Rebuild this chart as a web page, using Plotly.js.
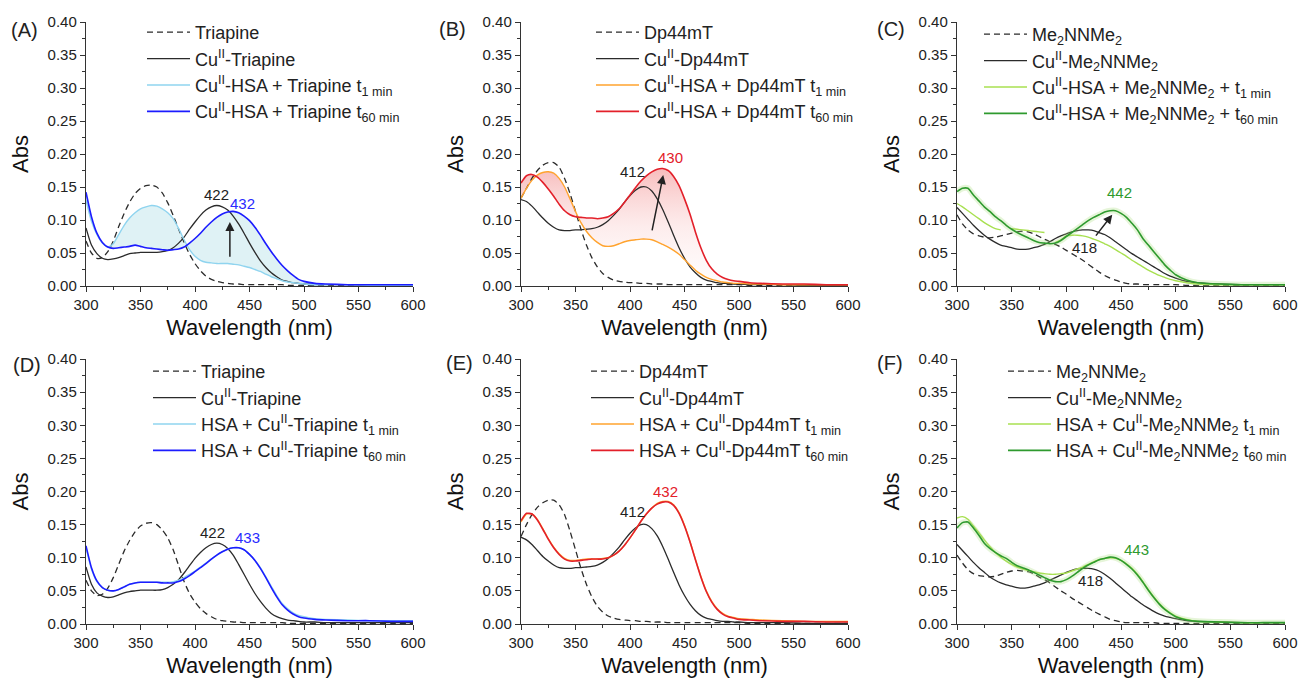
<!DOCTYPE html>
<html>
<head>
<meta charset="utf-8">
<script src="https://cdn.plot.ly/plotly-3.0.1.min.js"></script>
<style>html,body{margin:0;padding:0;background:#fff;}#chart{width:1298px;height:680px;}</style>
</head>
<body>
<div id="chart"></div>
<script>
// Wavelength grid (nm)
const WL = [300,305,310,315,320,325,330,335,340,345,
            350,355,360,365,370,375,380,385,390,395,
            400,405,410,415,420,425,430,435,440,445,
            450,455,460,465,470,475,480,485,490,495,
            500,
            510,520,540,560,580,600];

// Panel A
const triapineA = [0.068,0.050,0.042,0.043,0.052,0.068,0.090,0.110,0.127,0.140,
 0.148,0.152,0.153,0.150,0.141,0.126,0.107,0.086,0.066,0.048,
 0.034,0.023,0.015,0.010,0.007,0.005,0.004,0.003,0.003,0.002,
 0.002,0.002,0.002,0.002,0.002,0.002,0.002,0.001,0.001,0.001,
 0.001, 0.001,0.001,0.001,0.001,0.001,0.001];
const cuTriapineA = [0.088,0.062,0.049,0.042,0.040,0.041,0.043,0.046,0.049,0.050,
 0.051,0.051,0.051,0.051,0.052,0.054,0.058,0.065,0.074,0.086,
 0.097,0.107,0.115,0.120,0.122,0.120,0.115,0.106,0.094,0.080,
 0.065,0.051,0.038,0.028,0.020,0.014,0.009,0.007,0.005,0.004,
 0.003, 0.002,0.002,0.002,0.001,0.001,0.001];
const t1A = [0.130,0.098,0.078,0.065,0.059,0.064,0.078,0.092,0.103,0.111,
 0.117,0.120,0.122,0.121,0.117,0.111,0.102,0.087,0.070,0.055,
 0.045,0.039,0.036,0.035,0.034,0.034,0.034,0.033,0.032,0.030,
 0.028,0.025,0.022,0.018,0.014,0.011,0.008,0.006,0.005,0.004,
 0.003, 0.002,0.002,0.002,0.001,0.001,0.001];
const t60A = [0.142,0.105,0.080,0.066,0.059,0.057,0.058,0.059,0.060,0.062,
 0.060,0.058,0.057,0.056,0.055,0.054,0.055,0.056,0.059,0.065,
 0.072,0.080,0.089,0.097,0.104,0.109,0.112,0.113,0.111,0.106,
 0.099,0.089,0.077,0.064,0.052,0.041,0.031,0.023,0.016,0.010,
 0.007, 0.004,0.003,0.002,0.002,0.002,0.002];

// Panel B
const dp44mtB = [0.133,0.148,0.163,0.175,0.183,0.187,0.187,0.180,0.163,0.140,
 0.113,0.086,0.062,0.043,0.029,0.019,0.013,0.009,0.007,0.006,
 0.005,0.005,0.004,0.004,0.003,0.003,0.003,0.002,0.002,0.002,
 0.002,0.002,0.002,0.002,0.002,0.002,0.002,0.002,0.002,0.002,
 0.002, 0.001,0.001,0.001,0.001,0.001,0.001];
const cuDp44mtB = [0.131,0.128,0.121,0.112,0.103,0.095,0.089,0.085,0.084,0.084,
 0.085,0.085,0.086,0.087,0.089,0.093,0.099,0.107,0.116,0.127,
 0.137,0.145,0.150,0.150,0.144,0.132,0.116,0.097,0.077,0.058,
 0.042,0.029,0.020,0.013,0.009,0.007,0.005,0.004,0.004,0.003,
 0.003, 0.002,0.002,0.002,0.001,0.001,0.001];
const t1B = [0.133,0.148,0.160,0.168,0.172,0.173,0.171,0.163,0.150,0.132,
 0.113,0.096,0.083,0.073,0.066,0.061,0.060,0.061,0.064,0.067,
 0.069,0.070,0.071,0.071,0.070,0.067,0.063,0.059,0.054,0.048,
 0.040,0.032,0.024,0.018,0.013,0.010,0.008,0.006,0.005,0.004,
 0.004, 0.003,0.003,0.002,0.002,0.002,0.002];
const t60B = [0.156,0.167,0.169,0.165,0.157,0.147,0.136,0.124,0.114,0.108,
 0.105,0.104,0.103,0.103,0.102,0.103,0.105,0.110,0.117,0.127,
 0.138,0.149,0.159,0.167,0.173,0.177,0.178,0.175,0.166,0.152,
 0.132,0.109,0.082,0.058,0.039,0.026,0.018,0.013,0.010,0.008,
 0.007, 0.005,0.004,0.003,0.003,0.002,0.002];

// Panel C
const meC = [0.108,0.094,0.085,0.079,0.076,0.074,0.073,0.074,0.076,0.078,
 0.080,0.082,0.083,0.082,0.079,0.075,0.071,0.067,0.063,0.059,
 0.054,0.049,0.044,0.039,0.033,0.027,0.021,0.016,0.012,0.009,
 0.006,0.004,0.003,0.003,0.002,0.002,0.002,0.002,0.002,0.002,
 0.002, 0.001,0.001,0.001,0.001,0.001,0.001];
const cuMeC = [0.119,0.110,0.101,0.092,0.084,0.077,0.071,0.066,0.062,0.060,
 0.058,0.056,0.0555,0.056,0.058,0.060,0.063,0.067,0.072,0.076,
 0.079,0.082,0.084,0.085,0.085,0.084,0.081,0.078,0.073,0.067,
 0.061,0.055,0.049,0.044,0.039,0.034,0.029,0.024,0.019,0.015,
 0.012, 0.007,0.005,0.003,0.002,0.002,0.002];
const t1C = [0.125,0.120,0.114,0.108,0.102,0.096,0.091,0.087,0.085,null,
 0.087,0.086,0.085,0.084,0.083,0.082,0.081,null,0.066,0.070,
 0.076,0.077,0.077,0.076,0.074,0.071,0.068,0.064,0.060,0.055,
 0.050,0.045,0.039,0.034,0.029,0.024,0.020,0.016,0.013,0.010,
 0.008, 0.005,0.003,0.002,0.002,0.002,0.002];
const t60C = [0.143,0.148,0.148,0.138,0.129,0.120,0.113,0.105,0.099,0.092,
 0.086,0.081,0.077,0.073,0.069,0.066,0.065,0.064,0.065,0.069,
 0.075,0.081,0.087,0.093,0.099,0.104,0.108,0.112,0.114,0.114,
 0.110,0.104,0.095,0.085,0.072,0.062,0.052,0.042,0.032,0.024,
 0.017, 0.009,0.005,0.003,0.002,0.002,0.002];

// Panel D
const triapineD = [0.066,0.050,0.043,0.045,0.054,0.070,0.090,0.110,0.126,0.139,
 0.148,0.152,0.153,0.150,0.142,0.130,0.112,0.088,0.064,0.046,
 0.033,0.023,0.016,0.011,0.007,0.005,0.004,0.003,0.003,0.002,
 0.002,0.002,0.002,0.002,0.002,0.002,0.002,0.001,0.001,0.001,
 0.001, 0.001,0.001,0.001,0.001,0.001,0.001];
const cuTriapineD = [0.086,0.060,0.047,0.042,0.040,0.041,0.044,0.047,0.049,0.050,
 0.051,0.051,0.051,0.051,0.052,0.055,0.060,0.067,0.077,0.088,
 0.099,0.108,0.115,0.120,0.122,0.120,0.114,0.104,0.090,0.075,
 0.060,0.046,0.034,0.024,0.016,0.011,0.008,0.006,0.005,0.004,
 0.003, 0.003,0.002,0.002,0.002,0.002,0.002];
const t1D = [0.115,0.083,0.064,0.055,0.051,0.050,0.052,0.056,0.060,0.062,
 0.063,0.063,0.063,0.063,0.063,0.063,0.064,0.066,0.070,0.075,
 0.080,0.086,0.092,0.098,0.104,0.109,0.113,0.115,0.115,0.112,
 0.105,0.096,0.085,0.071,0.057,0.043,0.031,0.023,0.017,0.013,
 0.011, 0.008,0.007,0.006,0.005,0.005,0.005];
const t60D = [0.118,0.085,0.065,0.055,0.051,0.050,0.052,0.056,0.060,0.062,
 0.063,0.063,0.063,0.063,0.062,0.062,0.062,0.064,0.068,0.073,
 0.079,0.085,0.091,0.098,0.104,0.109,0.113,0.115,0.115,0.112,
 0.105,0.096,0.084,0.070,0.055,0.041,0.029,0.021,0.015,0.011,
 0.009, 0.007,0.006,0.005,0.005,0.004,0.004];

// Panel E
const dp44mtE = [0.132,0.150,0.165,0.176,0.183,0.187,0.187,0.180,0.165,0.140,
 0.112,0.084,0.060,0.041,0.027,0.018,0.012,0.009,0.007,0.006,
 0.005,0.005,0.004,0.004,0.003,0.003,0.003,0.002,0.002,0.002,
 0.002,0.002,0.002,0.002,0.002,0.002,0.002,0.002,0.002,0.002,
 0.002, 0.001,0.001,0.001,0.001,0.001,0.001];
const cuDp44mtE = [0.131,0.127,0.120,0.111,0.102,0.095,0.089,0.085,0.084,0.084,
 0.085,0.085,0.086,0.087,0.089,0.093,0.099,0.107,0.116,0.127,
 0.137,0.145,0.150,0.150,0.144,0.133,0.117,0.098,0.078,0.059,
 0.043,0.030,0.020,0.013,0.009,0.007,0.005,0.004,0.004,0.003,
 0.003, 0.002,0.002,0.002,0.001,0.001,0.001];
const t1E = [0.154,0.166,0.166,0.158,0.144,0.129,0.116,0.106,0.099,0.096,
 0.096,0.097,0.098,0.098,0.098,0.099,0.100,0.104,0.110,0.119,
 0.130,0.142,0.155,0.166,0.175,0.182,0.185,0.185,0.180,0.168,
 0.149,0.125,0.098,0.072,0.050,0.034,0.023,0.016,0.012,0.010,
 0.008, 0.007,0.006,0.005,0.004,0.004,0.004];
const t60E = [0.156,0.167,0.166,0.157,0.143,0.128,0.115,0.105,0.098,0.095,
 0.095,0.096,0.097,0.098,0.098,0.098,0.100,0.104,0.110,0.119,
 0.130,0.142,0.155,0.166,0.175,0.181,0.184,0.184,0.179,0.167,
 0.148,0.124,0.097,0.071,0.049,0.033,0.022,0.015,0.011,0.009,
 0.007, 0.006,0.005,0.004,0.004,0.003,0.003];

// Panel F
const meF = [0.104,0.092,0.082,0.076,0.073,0.072,0.071,0.072,0.075,0.078,
 0.080,0.081,0.080,0.079,0.076,0.071,0.067,0.062,0.056,0.050,
 0.045,0.039,0.034,0.029,0.024,0.019,0.015,0.011,0.007,0.005,
 0.003,0.002,0.002,0.002,0.002,0.002,0.002,0.001,0.001,0.001,
 0.001, 0.001,0.001,0.001,0.001,0.001,0.001];
const cuMeF = [0.120,0.111,0.102,0.093,0.085,0.078,0.071,0.066,0.062,0.059,
 0.057,0.055,0.054,0.055,0.057,0.059,0.062,0.066,0.070,0.074,
 0.078,0.081,0.083,0.084,0.084,0.083,0.080,0.075,0.069,0.062,
 0.055,0.048,0.041,0.035,0.029,0.024,0.019,0.015,0.012,0.010,
 0.008, 0.005,0.004,0.003,0.002,0.002,0.002];
const t1F = [0.160,0.162,0.158,0.148,0.138,0.127,0.117,0.108,0.101,0.095,
 0.090,0.086,0.083,0.081,0.079,0.077,0.076,0.075,0.075,0.076,
 0.077,0.080,0.083,0.086,0.090,0.094,0.097,0.099,0.100,0.099,
 0.096,0.091,0.084,0.075,0.064,0.052,0.041,0.031,0.023,0.017,
 0.012, 0.007,0.004,0.003,0.002,0.002,0.002];
const t60F = [0.145,0.153,0.154,0.145,0.134,0.122,0.114,0.108,0.103,0.099,
 0.093,0.088,0.085,0.082,0.078,0.074,0.070,0.066,0.064,0.064,
 0.067,0.072,0.078,0.084,0.089,0.093,0.097,0.099,0.101,0.100,
 0.096,0.090,0.083,0.074,0.063,0.051,0.040,0.030,0.022,0.016,
 0.011, 0.006,0.004,0.003,0.002,0.002,0.002];

// Legend labels
const namesA = ["Triapine","Cu<sup>II</sup>-Triapine","Cu<sup>II</sup>-HSA + Triapine t<sub>1 min</sub>","Cu<sup>II</sup>-HSA + Triapine t<sub>60 min</sub>"];
const namesB = ["Dp44mT","Cu<sup>II</sup>-Dp44mT","Cu<sup>II</sup>-HSA + Dp44mT t<sub>1 min</sub>","Cu<sup>II</sup>-HSA + Dp44mT t<sub>60 min</sub>"];
const namesC = ["Me<sub>2</sub>NNMe<sub>2</sub>","Cu<sup>II</sup>-Me<sub>2</sub>NNMe<sub>2</sub>","Cu<sup>II</sup>-HSA + Me<sub>2</sub>NNMe<sub>2</sub> + t<sub>1 min</sub>","Cu<sup>II</sup>-HSA + Me<sub>2</sub>NNMe<sub>2</sub> + t<sub>60 min</sub>"];
const namesD = ["Triapine","Cu<sup>II</sup>-Triapine","HSA + Cu<sup>II</sup>-Triapine t<sub>1 min</sub>","HSA + Cu<sup>II</sup>-Triapine t<sub>60 min</sub>"];
const namesE = ["Dp44mT","Cu<sup>II</sup>-Dp44mT","HSA + Cu<sup>II</sup>-Dp44mT t<sub>1 min</sub>","HSA + Cu<sup>II</sup>-Dp44mT t<sub>60 min</sub>"];
const namesF = ["Me<sub>2</sub>NNMe<sub>2</sub>","Cu<sup>II</sup>-Me<sub>2</sub>NNMe<sub>2</sub>","HSA + Cu<sup>II</sup>-Me<sub>2</sub>NNMe<sub>2</sub> t<sub>1 min</sub>","HSA + Cu<sup>II</sup>-Me<sub>2</sub>NNMe<sub>2</sub> t<sub>60 min</sub>"];

const panelLabels = ["(A)","(B)","(C)","(D)","(E)","(F)"];
const xTickVals = [300,350,400,450,500,550,600];
const yTickVals = [0,0.05,0.10,0.15,0.20,0.25,0.30,0.35,0.40];

const BLACK = '#2b2b2b';
const FONT = 'Liberation Sans, Arial, sans-serif';

const panels = [
  {ax:'',  leg:'legend',  names:namesA, d:[triapineA,cuTriapineA,t1A,t60A], c1:'#8fd4ef', c2:'#1c1cff',
   fill:{color:'rgba(110,195,210,0.22)'}, glow:null},
  {ax:'2', leg:'legend2', names:namesB, d:[dp44mtB,cuDp44mtB,t1B,t60B], c1:'#ffa32e', c2:'#e3202a',
   fill:{color:'rgba(240,120,120,0.15)', gradient:{type:'vertical', colorscale:[[0,'rgba(250,200,200,0.05)'],[0.5,'rgba(245,150,150,0.18)'],[1,'rgba(235,80,80,0.38)']]}}, glow:null},
  {ax:'3', leg:'legend3', names:namesC, d:[meC,cuMeC,t1C,t60C], c1:'#a8e050', c2:'#2e9a2e', fill:null, glow:'rgba(165,220,120,0.28)'},
  {ax:'4', leg:'legend4', names:namesD, d:[triapineD,cuTriapineD,t1D,t60D], c1:'#8fd4ef', c2:'#1c1cff', fill:null, glow:null},
  {ax:'5', leg:'legend5', names:namesE, d:[dp44mtE,cuDp44mtE,t1E,t60E], c1:'#ffa32e', c2:'#e3202a', fill:null, glow:null},
  {ax:'6', leg:'legend6', names:namesF, d:[meF,cuMeF,t1F,t60F], c1:'#a8e050', c2:'#2e9a2e', fill:null, glow:'rgba(165,220,120,0.28)'}
];

const SPL = {shape: 'spline', smoothing: 0.6};
const traces = [];
panels.forEach((p, i) => {
  const xa = 'x' + p.ax, ya = 'y' + p.ax;
  const base = {x: WL, xaxis: xa, yaxis: ya, mode: 'lines', legend: p.leg, hoverinfo: 'skip'};
  if (p.fill) {
    // shaded band between the t1 and t60 spectra (closed polygon built from the two series)
    const band = {
      x: WL.concat(WL.slice().reverse()),
      y: p.d[3].concat(p.d[2].slice().reverse()),
      xaxis: xa, yaxis: ya, mode: 'lines', showlegend: false, hoverinfo: 'skip',
      fill: 'toself', fillcolor: p.fill.color,
      line: Object.assign({width: 0, color: 'rgba(0,0,0,0)'}, SPL)
    };
    if (p.fill.gradient) band.fillgradient = p.fill.gradient;
    traces.push(band);
  }
  traces.push(Object.assign({}, base, {y: p.d[0], name: p.names[0], legendgroup: 'g'+i+'a', line: Object.assign({color: BLACK, width: 1.3, dash: '6px,4px'}, SPL)}));
  traces.push(Object.assign({}, base, {y: p.d[1], name: p.names[1], legendgroup: 'g'+i+'b', line: Object.assign({color: BLACK, width: 1.3}, SPL)}));
  traces.push(Object.assign({}, base, {y: p.d[2], name: p.names[2], legendgroup: 'g'+i+'c', connectgaps: false, line: Object.assign({color: p.c1, width: 1.4}, SPL)}));
  if (p.glow) {
    traces.push(Object.assign({}, base, {y: p.d[3], showlegend: false, line: Object.assign({color: p.glow, width: 6}, SPL)}));
  }
  traces.push(Object.assign({}, base, {y: p.d[3], name: p.names[3], legendgroup: 'g'+i+'d', line: Object.assign({color: p.c2, width: 1.6}, SPL)}));
});

// Layout geometry
const colX = [[86,413],[521,848],[957,1285]];
const rowY = [[22,286],[359,624]];
const W = 1298, H = 680;
const layout = {
  width: W, height: H,
  margin: {l:0, r:0, t:0, b:0},
  paper_bgcolor: '#fff', plot_bgcolor: '#fff',
  font: {family: FONT, color: '#222', size: 15},
  showlegend: true,
  annotations: []
};

const labelRight = [40, 468, 907, 43, 475, 905];
const labelY = [30, 29, 29, 365, 363, 363];
const legX = [142, 591, 979, 148, 586, 1003];
const legTop = [14, 14, 16, 353, 353, 353];

for (let i = 0; i < 6; i++) {
  const c = colX[i % 3], r = rowY[Math.floor(i / 3)];
  const sfx = i === 0 ? '' : String(i + 1);
  layout['xaxis' + sfx] = {
    domain: [c[0]/W, c[1]/W], anchor: 'y' + sfx,
    range: [300, 600], tickvals: xTickVals, ticks: 'outside', ticklen: 5, tickwidth: 1, tickcolor: '#333',
    minor: {dtick: 25, ticks: 'outside', ticklen: 3, tickcolor: '#333', showgrid: false},
    showline: true, linecolor: '#333', linewidth: 1.2, showgrid: false, zeroline: false,
    tickfont: {size: 15, family: FONT, color: '#222'},
    title: {text: 'Wavelength (nm)', font: {size: 22, family: FONT, color: '#111'}, standoff: 7},
    fixedrange: true
  };
  layout['yaxis' + sfx] = {
    domain: [1 - r[1]/H, 1 - r[0]/H], anchor: 'x' + sfx,
    range: [0, 0.40], tickvals: yTickVals, tickformat: '.2f', ticks: 'outside', ticklen: 5, tickwidth: 1, tickcolor: '#333',
    minor: {dtick: 0.025, ticks: 'outside', ticklen: 3, tickcolor: '#333', showgrid: false},
    showline: true, linecolor: '#333', linewidth: 1.2, showgrid: false, zeroline: false,
    tickfont: {size: 15, family: FONT, color: '#222'},
    title: {text: 'Abs', font: {size: 22, family: FONT, color: '#111'}, standoff: 12},
    fixedrange: true
  };
  const legKey = i === 0 ? 'legend' : 'legend' + (i + 1);
  layout[legKey] = {
    x: legX[i] / W, xanchor: 'left', y: 1 - legTop[i] / H, yanchor: 'top',
    bgcolor: 'rgba(0,0,0,0)', borderwidth: 0,
    font: {size: 18, family: FONT, color: '#222'},
    traceorder: 'grouped', tracegroupgap: 0, itemwidth: 43
  };
  layout.annotations.push({
    xref: 'paper', yref: 'paper', x: labelRight[i] / W, y: 1 - labelY[i] / H,
    xanchor: 'right', yanchor: 'middle', text: panelLabels[i], showarrow: false,
    font: {size: 20, family: FONT, color: '#222'}
  });
}

// Peak labels (data coords)
const peakLabels = [
  {ax:'', x:420, y:0.138, t:'422', c:'#222'},
  {ax:'', x:444, y:0.125, t:'432', c:'#2a2aff'},
  {ax:'2', x:402, y:0.173, t:'412', c:'#222'},
  {ax:'2', x:437, y:0.194, t:'430', c:'#e3202a'},
  {ax:'3', x:449, y:0.141, t:'442', c:'#2e9a2e'},
  {ax:'3', x:417, y:0.059, t:'418', c:'#222'},
  {ax:'4', x:416, y:0.138, t:'422', c:'#222'},
  {ax:'4', x:448, y:0.131, t:'433', c:'#2a2aff'},
  {ax:'5', x:402, y:0.170, t:'412', c:'#222'},
  {ax:'5', x:433, y:0.200, t:'432', c:'#e3202a'},
  {ax:'6', x:464, y:0.113, t:'443', c:'#2e9a2e'},
  {ax:'6', x:422, y:0.066, t:'418', c:'#222'}
];
peakLabels.forEach(p => layout.annotations.push({
  xref: 'x' + p.ax, yref: 'y' + p.ax, x: p.x, y: p.y, text: p.t, showarrow: false,
  font: {size: 15, family: FONT, color: p.c}
}));

// Arrows (tail -> head, data coords)
const arrows = [
  {ax:'', x0:432, y0:0.042, x1:432, y1:0.097},
  {ax:'2', x0:420, y0:0.082, x1:430.5, y1:0.168},
  {ax:'3', x0:426, y0:0.074, x1:442, y1:0.108}
];
arrows.forEach(a => layout.annotations.push({
  xref: 'x' + a.ax, yref: 'y' + a.ax, axref: 'x' + a.ax, ayref: 'y' + a.ax,
  x: a.x1, y: a.y1, ax: a.x0, ay: a.y0, text: '', showarrow: true,
  arrowhead: 2, arrowsize: 1.2, arrowwidth: 1.5, arrowcolor: '#222'
}));

Plotly.newPlot('chart', traces, layout, {displayModeBar: false, staticPlot: true});
</script>
</body>
</html>
